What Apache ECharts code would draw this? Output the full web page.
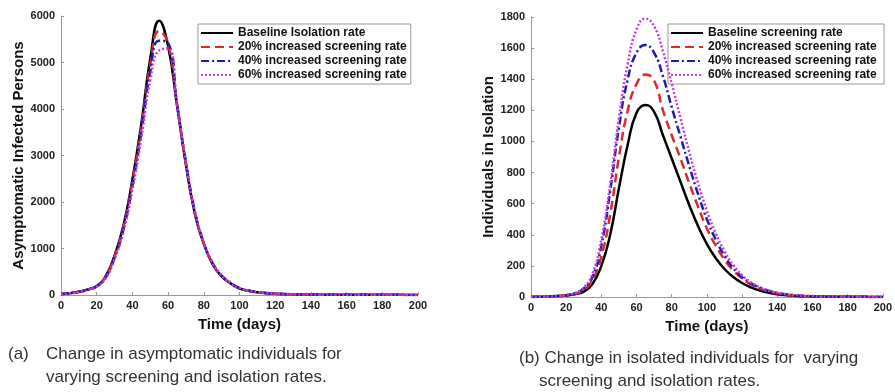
<!DOCTYPE html>
<html>
<head>
<meta charset="utf-8">
<script src="https://cdn.jsdelivr.net/npm/echarts@6/dist/echarts.min.js"></script>
<style>
html,body{margin:0;padding:0;background:#fff;}
#chart{width:895px;height:392px;}
</style>
</head>
<body>
<div id="chart"></div>
<script>
// Time axis (days), shared by both panels
const days = [0,5,10,15,20,25,30,35,40,45,50,55,60,65,70,75,80,85,90,95,100,105,110,115,120,125,130,135,140,145,150,155,160,165,170,175,180,185,190,195,200];

// Panel (a): asymptomatic infected persons
const asymBaseline = [20,40,70,120,195,400,850,1500,2480,3680,5080,5900,5350,4080,2800,1750,1100,660,400,250,140,90,60,40,28,20,15,12,10,8,7,6,5,5,4,4,3,3,3,2,2];
const asym20 = [20,40,70,115,190,390,830,1470,2430,3600,4950,5680,5400,4100,2820,1770,1110,670,410,255,145,92,62,42,29,20,15,12,10,8,7,6,5,5,4,4,3,3,3,2,2];
const asym40 = [20,38,68,112,185,375,800,1420,2350,3500,4800,5470,5420,4120,2840,1790,1120,680,415,260,150,95,63,43,30,21,16,12,10,8,7,6,5,5,4,4,3,3,3,2,2];
const asym60 = [18,36,65,108,178,360,770,1370,2270,3380,4620,5260,5300,4130,2860,1800,1130,690,420,262,152,96,64,44,30,21,16,12,10,8,7,6,5,5,4,4,3,3,3,2,2];

// Panel (b): individuals in isolation
const isoBaseline = [0,1,3,6,10,18,35,85,200,400,700,980,1185,1235,1190,1040,890,740,590,455,340,250,180,128,90,62,42,28,18,12,8,5,4,3,2,2,1,1,1,0,0];
const iso20 = [0,1,3,6,11,22,45,110,260,530,900,1200,1370,1430,1390,1200,1040,890,730,580,440,330,240,170,120,82,55,36,24,15,10,6,4,3,2,2,1,1,1,0,0];
const iso40 = [0,1,3,7,12,24,55,130,330,680,1090,1400,1570,1620,1570,1420,1220,1030,840,660,500,370,265,185,128,88,60,40,26,17,11,7,5,3,2,2,1,1,1,0,0];
const iso60 = [0,1,3,7,13,25,60,150,370,720,1150,1500,1720,1790,1740,1580,1370,1150,930,730,555,410,295,205,140,95,64,42,28,18,12,8,5,4,3,2,1,1,1,0,0];

const namesA = ['Baseline Isolation rate','20% increased screening rate','40% increased screening rate','60% increased screening rate'];
const namesB = ['Baseline screening rate','20% increased screening rate ','40% increased screening rate ','60% increased screening rate '];
const xTicks = {min:0, max:200, interval:20};
const yTicksA = {min:0, max:6000, interval:1000};
const yTicksB = {min:0, max:1800, interval:200};

const colors = ['#000000','#e02828','#1c1cb0','#c63cdc'];
const dashes = ['solid',[9,5],[8,3,2,3],[2,2]];

function pairs(vals){ return days.map((d,i)=>[d, vals[i]]); }

const FONT = 'Liberation Sans, Arial, sans-serif';
const tickLbl = {fontFamily:FONT, fontWeight:'bold', fontSize:11, color:'#222', formatter:v=>String(v)};
const axisName = {fontFamily:FONT, fontWeight:'bold', fontSize:15, color:'#111'};

function xAx(gi){
  return {type:'value', gridIndex:gi, min:xTicks.min, max:xTicks.max, interval:xTicks.interval,
    name:'Time (days)', nameLocation:'middle', nameGap:22, nameTextStyle:axisName,
    axisLine:{lineStyle:{color:'#999', width:1}}, axisTick:{inside:true, length:3, lineStyle:{color:'#999'}},
    axisLabel:Object.assign({margin:5}, tickLbl), splitLine:{show:false}};
}
function yAx(gi, t, name, gap){
  return {type:'value', gridIndex:gi, min:t.min, max:t.max, interval:t.interval,
    name:name, nameLocation:'middle', nameGap:gap, nameTextStyle:axisName,
    axisLine:{show:true, lineStyle:{color:'#999', width:1}}, axisTick:{show:true, inside:true, length:3, lineStyle:{color:'#999'}},
    axisLabel:Object.assign({margin:6}, tickLbl), splitLine:{show:false}};
}
function mkSeries(names, arrs, gi){
  return arrs.map((a,i)=>({
    name:names[i], type:'line', xAxisIndex:gi, yAxisIndex:gi, data:pairs(a),
    showSymbol:false, symbol:'none', smooth:0.5,
    lineStyle:{color:colors[i], width:2.5, type:dashes[i]}, itemStyle:{color:colors[i]},
    emphasis:{disabled:true}, z:2+i
  }));
}
function mkLegend(names, left){
  return {data:names, orient:'vertical', left:left, top:24,
    itemWidth:32, itemHeight:14, itemGap:2, padding:[3,4,3,2],
    backgroundColor:'#fff', borderColor:'#999', borderWidth:1,
    itemStyle:{opacity:0, borderWidth:0},
    textStyle:{fontFamily:FONT, fontWeight:'bold', fontSize:12, color:'#111'},
    selectedMode:false};
}

const CAP = '17px Liberation Sans, Arial, sans-serif';
const chart = echarts.init(document.getElementById('chart'), null, {renderer:'canvas'});
chart.setOption({
  animation:false,
  grid:[
    {left:61, right:477, top:16, bottom:97},
    {left:531, right:8, top:17, bottom:95}
  ],
  xAxis:[xAx(0), xAx(1)],
  yAxis:[yAx(0, yTicksA, 'Asymptomatic Infected Persons', 33), yAx(1, yTicksB, 'Individuals in Isolation', 31)],
  legend:[mkLegend(namesA, 198), mkLegend(namesB, 668)],
  series:[].concat(mkSeries(namesA,[asymBaseline,asym20,asym40,asym60],0), mkSeries(namesB,[isoBaseline,iso20,iso40,iso60],1)),
  graphic:[
    {type:'text', left:8, top:346, style:{text:'(a)', font:CAP, fill:'#333'}},
    {type:'text', left:46, top:346, style:{text:'Change in asymptomatic individuals for', font:CAP, fill:'#333'}},
    {type:'text', left:46, top:369, style:{text:'varying screening and isolation rates.', font:CAP, fill:'#333'}},
    {type:'text', left:519, top:350, style:{text:'(b) Change in isolated individuals for  varying', font:CAP, fill:'#333'}},
    {type:'text', left:539, top:373, style:{text:'screening and isolation rates.', font:CAP, fill:'#333'}}
  ]
});
</script>
</body>
</html>
